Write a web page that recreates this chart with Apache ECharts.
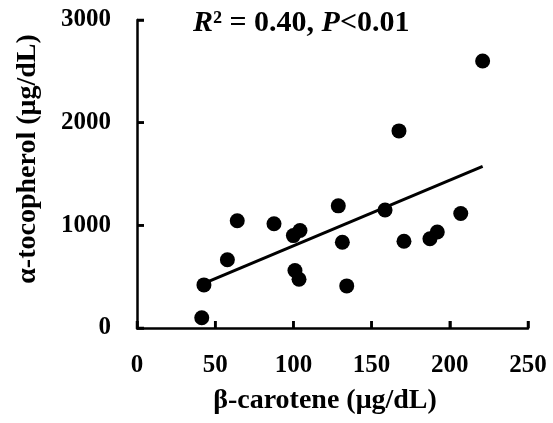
<!DOCTYPE html>
<html><head><meta charset="utf-8">
<script src="https://cdn.jsdelivr.net/npm/echarts@6/dist/echarts.min.js"></script>
<style>html,body{margin:0;padding:0;background:#fff}#c{width:553px;height:423px}</style>
</head><body><div id="c"></div>
<script>
const betaCarotene = [41.4, 42.8, 57.8, 64.1, 87.6, 100, 104.2, 101, 103.6, 128.7, 131.3, 134.1, 158.6, 167.5, 170.7, 187.3, 192, 207, 221];
const alphaTocopherol = [100, 420, 665, 1045, 1015, 900, 950, 560, 475, 1190, 835, 410, 1150, 1920, 845, 870, 935, 1115, 2600];
const trendX = [42.8, 221];
const trendY = [435, 1575];
const xTicks = [0, 50, 100, 150, 200, 250];
const yTicks = [0, 1000, 2000, 3000];
const FONT = '"Liberation Serif", "Times New Roman", serif';
const TICK_LEN = 7;

const chart = echarts.init(document.getElementById('c'), null, {renderer: 'canvas'});
chart.setOption({
  animation: false,
  grid: {left: 137, right: 25, top: 20, bottom: 95, containLabel: false},
  xAxis: {
    type: 'value', min: xTicks[0], max: xTicks[xTicks.length - 1], interval: 50,
    axisLine: {show: true, onZero: false, lineStyle: {color: '#000', width: 2.5}},
    axisTick: {show: true, inside: true, length: TICK_LEN, lineStyle: {color: '#000', width: 2.5}},
    splitLine: {show: false},
    axisLabel: {color: '#000', fontFamily: FONT, fontWeight: 'bold', fontSize: 25, margin: 25,
      formatter: v => String(v)}
  },
  yAxis: {
    type: 'value', min: yTicks[0], max: yTicks[yTicks.length - 1], interval: 1000,
    axisLine: {show: true, onZero: false, lineStyle: {color: '#000', width: 2.5}},
    axisTick: {show: true, inside: true, length: TICK_LEN, lineStyle: {color: '#000', width: 2.5}},
    splitLine: {show: false},
    axisLabel: {color: '#000', fontFamily: FONT, fontWeight: 'bold', fontSize: 25, margin: 26,
      formatter: v => String(v)}
  },
  graphic: [
    {type: 'text', left: 193, top: 8, style: {
      text: '{i|R}{n|² = 0.40, }{i|P}{n|<0.01}',
      rich: {
        i: {fontFamily: FONT, fontWeight: 'bold', fontStyle: 'italic', fontSize: 30, fill: '#000'},
        n: {fontFamily: FONT, fontWeight: 'bold', fontSize: 30, fill: '#000'}
      }
    }},
    {type: 'text', x: 325, y: 401, style: {
      text: 'β-carotene (μg/dL)', fontFamily: FONT, fontWeight: 'bold', fontSize: 28,
      fill: '#000', align: 'center', verticalAlign: 'middle'
    }},
    {type: 'text', x: 28, y: 159, rotation: Math.PI / 2, style: {
      text: 'α-tocopherol (μg/dL)', fontFamily: FONT, fontWeight: 'bold', fontSize: 28,
      fill: '#000', align: 'center', verticalAlign: 'middle'
    }}
  ],
  series: [
    {type: 'custom', clip: false, silent: true, z: 4,
     data: xTicks.map(v => [v, yTicks[0]]),
     renderItem: (params, api) => {
       const p = api.coord([api.value(0), api.value(1)]);
       return {type: 'line', shape: {x1: p[0], y1: p[1], x2: p[0], y2: p[1] - TICK_LEN},
               style: {stroke: '#000', lineWidth: 2.5}};
     }},
    {type: 'custom', clip: false, silent: true, z: 4,
     data: yTicks.map(v => [xTicks[0], v]),
     renderItem: (params, api) => {
       const p = api.coord([api.value(0), api.value(1)]);
       return {type: 'line', shape: {x1: p[0], y1: p[1], x2: p[0] + TICK_LEN, y2: p[1]},
               style: {stroke: '#000', lineWidth: 2.5}};
     }},
    {type: 'line', data: trendX.map((x, i) => [x, trendY[i]]), symbol: 'none',
     lineStyle: {color: '#000', width: 3}, z: 2},
    {type: 'scatter', data: betaCarotene.map((x, i) => [x, alphaTocopherol[i]]),
     symbol: 'circle', symbolSize: 15, itemStyle: {color: '#000', opacity: 1}, z: 3}
  ]
});
</script></body></html>
